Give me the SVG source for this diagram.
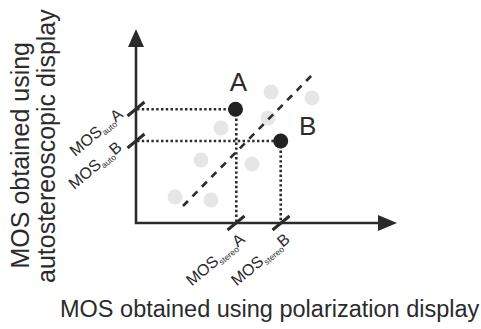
<svg xmlns="http://www.w3.org/2000/svg" width="481" height="329" viewBox="0 0 481 329">
<defs>
<style>
text{font-family:"Liberation Sans",Arial,sans-serif;fill:#2b2b2b}
.axis{stroke:#2b2b2b;stroke-width:2.6;fill:none}
.tick{stroke:#2b2b2b;stroke-width:3;stroke-linecap:butt}
.dot{stroke:#2b2b2b;stroke-width:2.6;stroke-dasharray:2.4 2.4;fill:none}
.dash{stroke:#2b2b2b;stroke-width:2.6;stroke-dasharray:7 6.5;fill:none}
.gray{fill:#e6e6e6}
.pt{fill:#222}
.big{font-size:26px}
.lbl{font-size:16px}
.sub{font-size:8.5px}
</style>
</defs>
<rect width="481" height="329" fill="#fff"/>
<g id="data-cloud">
<circle class="gray" cx="271" cy="92" r="7.5"/>
<circle class="gray" cx="312" cy="98" r="7.5"/>
<circle class="gray" cx="268" cy="118" r="7.5"/>
<circle class="gray" cx="221" cy="128" r="7.5"/>
<circle class="gray" cx="201" cy="160" r="7.5"/>
<circle class="gray" cx="252" cy="164" r="7.5"/>
<circle class="gray" cx="175" cy="197" r="7.5"/>
<circle class="gray" cx="211" cy="200" r="7.5"/>
</g>
<g id="connectors">
<line class="dash" x1="183" y1="206" x2="314" y2="73"/>
<line class="dot" x1="137" y1="109.3" x2="236" y2="109.3"/>
<line class="dot" x1="137" y1="141" x2="281" y2="141"/>
<line class="dot" x1="236.3" y1="109" x2="236.3" y2="222"/>
<line class="dot" x1="280.7" y1="141" x2="280.7" y2="222"/>
</g>
<g id="axes">
<polyline class="axis" points="136,44 136,223 380,223"/>
<polygon points="136,29 128,47 144,47" fill="#2b2b2b"/>
<polygon points="397,223 378,215 378,231" fill="#2b2b2b"/>
<line class="tick" x1="127.5" y1="116" x2="144.5" y2="102"/>
<line class="tick" x1="127.5" y1="148" x2="144.5" y2="134"/>
<line class="tick" x1="227.5" y1="230" x2="244.5" y2="216"/>
<line class="tick" x1="272.5" y1="230" x2="289.5" y2="216"/>
</g>
<g id="point-A">
<circle class="pt" cx="235.5" cy="109.3" r="7.5"/>
<text class="big" x="238.3" y="91" text-anchor="middle">A</text>
</g>
<g id="point-B">
<circle class="pt" cx="280.7" cy="141" r="7.5"/>
<text class="big" x="299" y="135">B</text>
</g>
<g id="y-tick-labels">
<text class="lbl" transform="translate(124,116) rotate(-40)" text-anchor="end">MOS<tspan class="sub" dy="3">auto</tspan><tspan dy="-3">A</tspan></text>
<text class="lbl" transform="translate(123,149) rotate(-40)" text-anchor="end">MOS<tspan class="sub" dy="3">auto</tspan><tspan dy="-3">B</tspan></text>
</g>
<g id="x-tick-labels">
<text class="lbl" transform="translate(246,241) rotate(-40)" text-anchor="end">MOS<tspan class="sub" dy="3">stereo</tspan><tspan dy="-3">A</tspan></text>
<text class="lbl" transform="translate(291,241) rotate(-40)" text-anchor="end">MOS<tspan class="sub" dy="3">stereo</tspan><tspan dy="-3">B</tspan></text>
</g>
<g id="axis-titles">
<text x="60" y="317" font-size="23.5">MOS obtained using polarization display</text>
<text transform="translate(29,268.5) rotate(-90)" font-size="25">MOS obtained using</text>
<text transform="translate(55,283) rotate(-90)" font-size="25">autostereoscopic display</text>
</g>
</svg>
